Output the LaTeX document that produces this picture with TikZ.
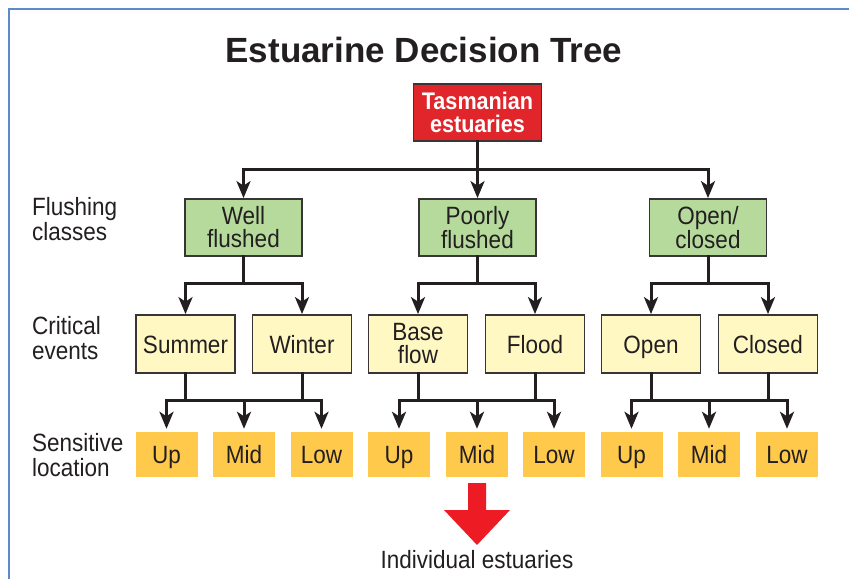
\documentclass[tikz,border=0pt]{standalone}
\usepackage{fontspec}
\setmainfont[FakeStretch=0.9]{Liberation Sans}
\newfontfamily\titlefont{Liberation Sans}
\usetikzlibrary{arrows.meta}

\definecolor{rootred}{HTML}{E0262B}
\definecolor{flushgreen}{HTML}{B5DA9B}
\definecolor{eventyellow}{HTML}{FFF8C2}
\definecolor{locorange}{HTML}{FFC94B}
\definecolor{arrowred}{HTML}{ED1C24}
\definecolor{frameblue}{HTML}{5B8BC9}
\definecolor{inkgray}{HTML}{231F20}

\tikzset{
    box/.style={draw=inkgray!90, line width=1.8pt, inner sep=0pt, align=center, text=inkgray, font=\fontsize{25}{23}\selectfont},
    rootbox/.style={box, fill=rootred, text=white, minimum width=128pt, minimum height=57pt, font=\bfseries\fontsize{24}{23}\selectfont},
    flushbox/.style={box, fill=flushgreen, minimum width=117pt, minimum height=57pt},
    eventbox/.style={box, fill=eventyellow, minimum width=99pt, minimum height=58pt},
    oneline/.style={text height=18pt, text depth=0pt},
    locbox/.style={fill=locorange, inner sep=0pt, text=inkgray, minimum width=62pt, minimum height=45pt, text height=18pt, text depth=0pt, font=\fontsize{25}{23}\selectfont},
    rowlabel/.style={anchor=north west, inner sep=0pt, align=left, text=inkgray, font=\fontsize{25}{25.5}\selectfont},
    link/.style={draw=inkgray, line width=3pt, line cap=rect},
    linkarrow/.style={draw=inkgray, line width=3pt, -{Stealth[length=17pt, width=14pt, inset=4.5pt]}},
}

\begin{document}
\begin{tikzpicture}[x=1pt, y=-1pt]
    \useasboundingbox (0,0) rectangle (849,579);
    % frame
    \draw[frameblue, line width=2pt] (9,579) -- (9,9) -- (849,9);
    % title
    \node[anchor=base, text=inkgray, font=\titlefont\bfseries\fontsize{35}{35}\selectfont] (title) at (424,62) {Estuarine Decision Tree};
    % row labels
    \node[rowlabel] (flushlbl) at (32,197) {Flushing\\classes};
    \node[rowlabel] (eventlbl) at (32,316) {Critical\\events};
    \node[rowlabel] (loclbl) at (32,433) {Sensitive\\location};
    % root
    \node[rootbox] (root) at (477.5,112.5) {Tasmanian\\estuaries};
    % flushing classes
    \node[flushbox] (well) at (243.5,227.5) {Well\\flushed};
    \node[flushbox] (poor) at (477.5,227.5) {Poorly\\flushed};
    \node[flushbox] (openclosed) at (708,227.5) {Open/\\closed};
    % critical events
    \node[eventbox, oneline] (summer) at (185.5,344) {Summer};
    \node[eventbox, oneline] (winter) at (302,344) {Winter};
    \node[eventbox] (base) at (418,344) {Base\\flow};
    \node[eventbox, oneline] (flood) at (535,344) {Flood};
    \node[eventbox, oneline] (opn) at (651,344) {Open};
    \node[eventbox, oneline] (closed) at (768,344) {Closed};
    % sensitive locations
    \node[locbox] (up1) at (166.5,454.5) {Up};
    \node[locbox] (mid1) at (244,454.5) {Mid};
    \node[locbox] (low1) at (321.5,454.5) {Low};
    \node[locbox] (up2) at (399,454.5) {Up};
    \node[locbox] (mid2) at (477,454.5) {Mid};
    \node[locbox] (low2) at (554,454.5) {Low};
    \node[locbox] (up3) at (631.5,454.5) {Up};
    \node[locbox] (mid3) at (709,454.5) {Mid};
    \node[locbox] (low3) at (787,454.5) {Low};
    % junction levels
    \coordinate (j0) at (0,169);
    \coordinate (j1) at (0,283);
    \coordinate (j2) at (0,400);
    % root to flushing classes
    \draw[link] (root.south) -- (root.south |- j0);
    \draw[link] (well.north |- j0) -- (openclosed.north |- j0);
    \draw[linkarrow] (well.north |- j0) -- (well.north);
    \draw[linkarrow] (poor.north |- j0) -- (poor.north);
    \draw[linkarrow] (openclosed.north |- j0) -- (openclosed.north);
    % flushing classes to critical events
    \draw[link] (well.south) -- (well.south |- j1);
    \draw[link] (summer.north |- j1) -- (winter.north |- j1);
    \draw[linkarrow] (summer.north |- j1) -- (summer.north);
    \draw[linkarrow] (winter.north |- j1) -- (winter.north);
    \draw[link] (poor.south) -- (poor.south |- j1);
    \draw[link] (base.north |- j1) -- (flood.north |- j1);
    \draw[linkarrow] (base.north |- j1) -- (base.north);
    \draw[linkarrow] (flood.north |- j1) -- (flood.north);
    \draw[link] (openclosed.south) -- (openclosed.south |- j1);
    \draw[link] (opn.north |- j1) -- (closed.north |- j1);
    \draw[linkarrow] (opn.north |- j1) -- (opn.north);
    \draw[linkarrow] (closed.north |- j1) -- (closed.north);
    % critical events to sensitive locations
    \draw[link] (summer.south) -- (summer.south |- j2);
    \draw[link] (winter.south) -- (winter.south |- j2);
    \draw[link] (up1.north |- j2) -- (low1.north |- j2);
    \draw[linkarrow, shorten >=3pt] (up1.north |- j2) -- (up1.north);
    \draw[linkarrow, shorten >=3pt] (mid1.north |- j2) -- (mid1.north);
    \draw[linkarrow, shorten >=3pt] (low1.north |- j2) -- (low1.north);
    \draw[link] (base.south) -- (base.south |- j2);
    \draw[link] (flood.south) -- (flood.south |- j2);
    \draw[link] (up2.north |- j2) -- (low2.north |- j2);
    \draw[linkarrow, shorten >=3pt] (up2.north |- j2) -- (up2.north);
    \draw[linkarrow, shorten >=3pt] (mid2.north |- j2) -- (mid2.north);
    \draw[linkarrow, shorten >=3pt] (low2.north |- j2) -- (low2.north);
    \draw[link] (opn.south) -- (opn.south |- j2);
    \draw[link] (closed.south) -- (closed.south |- j2);
    \draw[link] (up3.north |- j2) -- (low3.north |- j2);
    \draw[linkarrow, shorten >=3pt] (up3.north |- j2) -- (up3.north);
    \draw[linkarrow, shorten >=3pt] (mid3.north |- j2) -- (mid3.north);
    \draw[linkarrow, shorten >=3pt] (low3.north |- j2) -- (low3.north);
    % big arrow and result
    \fill[arrowred] (468,483) -- (486,483) -- (486,510) -- (510,510) -- (477,545) -- (444,510) -- (468,510) -- cycle;
    \node[anchor=base, text=inkgray, font=\fontsize{25}{25}\selectfont] (indiv) at (477,568) {Individual estuaries};
\end{tikzpicture}
\end{document}
